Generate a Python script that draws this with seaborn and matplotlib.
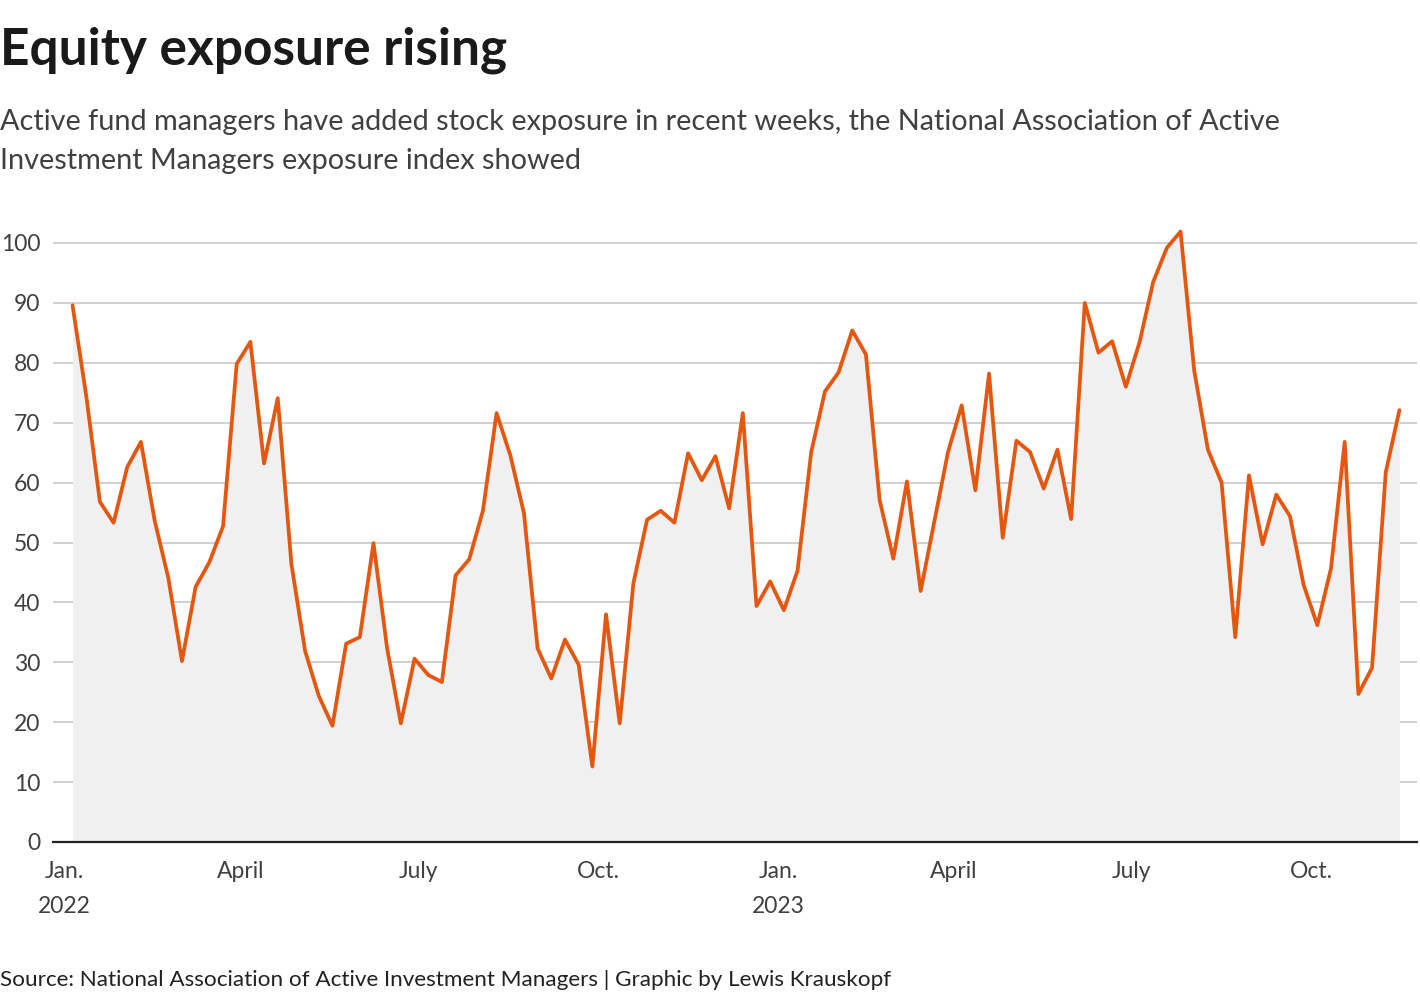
import pandas as pd
import numpy as np
import matplotlib
matplotlib.use("Agg")
import matplotlib.pyplot as plt
import seaborn as sns

values = [89.6, 74.5, 56.8, 53.3, 62.6, 66.8, 53.7, 44.1, 30.2, 42.6,
          46.7, 52.7, 79.8, 83.5, 63.2, 74.1, 46.4, 31.9, 24.4, 19.4,
          33.1, 34.2, 49.9, 32.3, 19.8, 30.6, 27.9, 26.7, 44.5, 47.2,
          55.3, 71.6, 64.6, 54.9, 32.3, 27.3, 33.8, 29.6, 12.6, 38.0,
          19.8, 43.2, 53.8, 55.3, 53.3, 64.9, 60.4, 64.4, 55.7, 71.6,
          39.4, 43.5, 38.7, 45.3, 65.1, 75.2, 78.4, 85.4, 81.4, 57.1,
          47.3, 60.2, 41.9, 53.5, 65.1, 72.9, 58.7, 78.2, 50.8, 67.0,
          65.1, 59.0, 65.5, 53.9, 90.0, 81.7, 83.6, 76.0, 83.4, 93.5,
          99.2, 101.9, 78.7, 65.5, 60.0, 34.2, 61.2, 49.7, 58.0, 54.4,
          42.9, 36.2, 45.7, 66.8, 24.7, 29.1, 61.7, 72.1]
dates = pd.date_range("2022-01-05", periods=len(values), freq="7D")
yticks = [0, 10, 20, 30, 40, 50, 60, 70, 80, 90, 100]
xtick_dates = ["2022-01-01", "2022-04-01", "2022-07-01", "2022-10-01",
               "2023-01-01", "2023-04-01", "2023-07-01", "2023-10-01"]
xtick_labels = ["Jan.\n2022", "April", "July", "Oct.",
                "Jan.\n2023", "April", "July", "Oct."]

title = "Equity exposure rising"
subtitle = ("Active fund managers have added stock exposure in recent weeks, the National Association of Active\n"
            "Investment Managers exposure index showed")
source = "Source: National Association of Active Investment Managers | Graphic by Lewis Krauskopf"

df = pd.DataFrame({"date": dates, "value": values})

sns.set_theme(style="white")
plt.rcParams["font.family"] = ["Lato", "DejaVu Sans"]

W, H = 1420, 1000
fig = plt.figure(figsize=(W / 100, H / 100), dpi=100)
y0, ytop_val = 842, 105
top_px = 842 - 5.99 * ytop_val
ax = fig.add_axes([53 / W, 1 - y0 / H, (1417 - 53) / W, (y0 - top_px) / H])

orange = "#e5560f"
ax.fill_between(df["date"], 0, df["value"], color="#f0f0f0", linewidth=0, zorder=1)
sns.lineplot(data=df, x="date", y="value", ax=ax, color=orange, linewidth=2.7,
             zorder=3)

ax.set_ylim(0, ytop_val)
ax.set_xlim(pd.Timestamp("2021-12-26"), pd.Timestamp("2023-11-24"))
ax.set_yticks(yticks)
ax.set_yticklabels([str(v) for v in yticks])
ax.set_xticks(pd.to_datetime(xtick_dates))
ax.set_xticklabels(xtick_labels, linespacing=1.8, va="top")
ax.set_xlabel("")
ax.set_ylabel("")

ax.grid(axis="y", color="#c8c8c8", linewidth=1.2, zorder=0)
ax.grid(axis="x", visible=False)
ax.set_axisbelow(True)
for s in ["top", "right", "left"]:
    ax.spines[s].set_visible(False)
ax.spines["bottom"].set_color("#222222")
ax.spines["bottom"].set_linewidth(1.6)
ax.spines["bottom"].set_zorder(4)

ax.tick_params(axis="y", length=0, pad=9, labelsize=16.5, labelcolor="#404040")
ax.tick_params(axis="x", length=0, pad=14, labelsize=16.5, labelcolor="#404040")

fig.text(0 / W, 1 - 50 / H, title, fontsize=37, fontweight="bold", color="#1a1a1a",
         ha="left", va="center")
fig.text(0 / W, 1 - 109 / H, subtitle, fontsize=20.8, color="#404040", ha="left", va="top",
         linespacing=1.62)
fig.text(0 / W, 1 - 980 / H, source, fontsize=16.2, color="#222222", ha="left", va="center")

fig.savefig("out.png", dpi=100)
